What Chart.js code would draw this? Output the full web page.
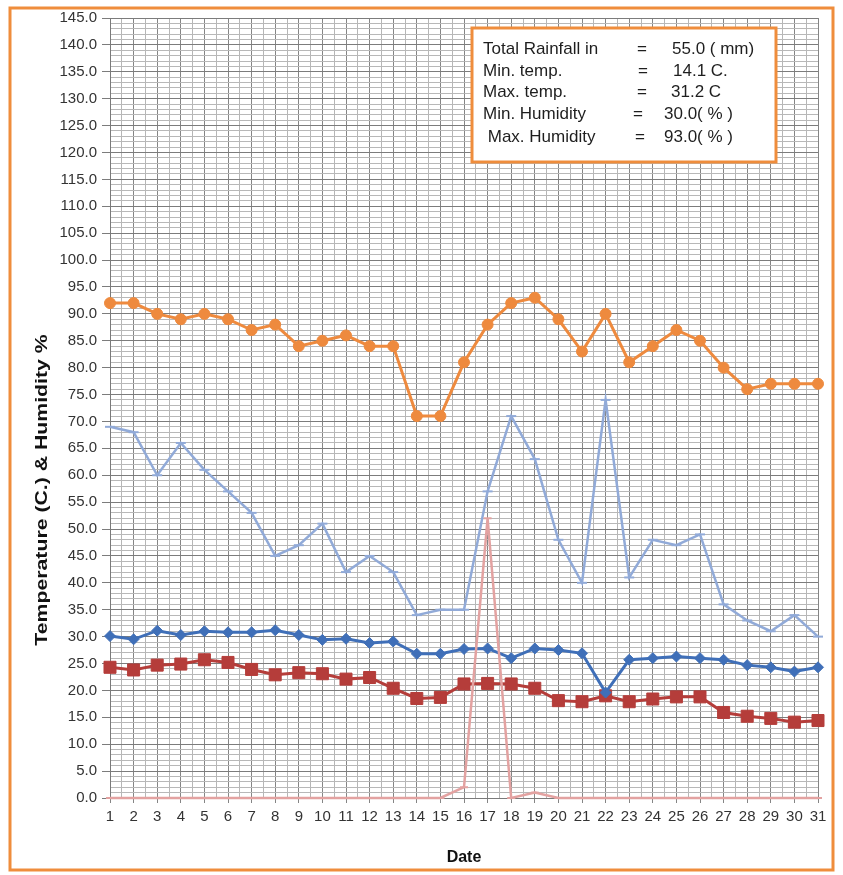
<!DOCTYPE html>
<html>
<head>
<meta charset="utf-8">
<script src="https://cdn.jsdelivr.net/npm/chart.js@4/dist/chart.umd.min.js"></script>
<style>
  body { margin: 0; background: #ffffff; }
  #chart { display: block; }
</style>
</head>
<body>
<canvas id="chart" width="843" height="875"></canvas>
<script>
// =====================================================
// DATA
// =====================================================

const days = [1, 2, 3, 4, 5, 6, 7, 8, 9, 10, 11, 12, 13, 14, 15, 16,
              17, 18, 19, 20, 21, 22, 23, 24, 25, 26, 27, 28, 29, 30, 31];

const maxHumidity = [92, 92, 90, 89, 90, 89, 87, 88, 84, 85, 86, 84, 84, 71, 71, 81,
                     88, 92, 93, 89, 83, 90, 81, 84, 87, 85, 80, 76, 77, 77, 77];
const minHumidity = [69, 68, 60, 66, 61, 57, 53, 45, 47, 51, 42, 45, 42, 34, 35, 35,
                     57, 71, 63, 48, 40, 74, 41, 48, 47, 49, 36, 33, 31, 34, 30];
const maxTemp = [30.1, 29.5, 31.1, 30.3, 31.0, 30.8, 30.8, 31.2, 30.3, 29.4, 29.6, 28.8, 29.1, 26.8, 26.8, 27.7,
                 27.8, 26.0, 27.8, 27.5, 26.9, 19.6, 25.7, 26.0, 26.3, 26.0, 25.7, 24.7, 24.3, 23.5, 24.3];
const minTemp = [24.3, 23.8, 24.7, 24.9, 25.7, 25.2, 23.9, 22.9, 23.3, 23.1, 22.1, 22.4, 20.4, 18.5, 18.7, 21.2,
                 21.3, 21.2, 20.4, 18.1, 17.9, 19.0, 17.9, 18.4, 18.8, 18.8, 15.9, 15.2, 14.8, 14.1, 14.4];
const rainfall = [0, 0, 0, 0, 0, 0, 0, 0, 0, 0, 0, 0, 0, 0, 0, 2,
                  52, 0, 1, 0, 0, 0, 0, 0, 0, 0, 0, 0, 0, 0, 0];

// summary box text
const infoLabels = ['Total Rainfall in', 'Min. temp.', 'Max. temp.', 'Min. Humidity', ' Max. Humidity'];
const infoValues = ['55.0 ( mm)', '14.1 C.', '31.2 C', '30.0( % )', '93.0( % )'];

const yTitle = 'Temperature (C.) & Humidity %';
const yMin = 0;
const yMax = 145;

// turn a value list into {x, y} points for the linear date axis
function points(values) {
  return days.map((d, i) => ({ x: d, y: values[i] }));
}

const FONT = "'Liberation Sans', Arial, sans-serif";

// =====================================================
// EXTRA DRAWING: y title, summary box, outer frame
// =====================================================

const framePlugin = {
  id: 'frame',
  afterDraw(chart) {
    const c = chart.ctx;
    c.save();

    // y axis title, stretched a bit like the sheet picture
    c.save();
    c.translate(42, 490);
    c.rotate(-Math.PI / 2);
    c.scale(1.25, 1);
    c.fillStyle = '#111111';
    c.font = 'bold 17px ' + FONT;
    c.textAlign = 'center';
    c.textBaseline = 'middle';
    c.fillText(yTitle, 0, 0);
    c.restore();

    // summary box
    c.fillStyle = '#ffffff';
    c.fillRect(472, 28, 304, 134);
    c.strokeStyle = '#ef8d3c';
    c.lineWidth = 3;
    c.strokeRect(472, 28, 304, 134);

    c.fillStyle = '#1e1e1e';
    c.font = '17px ' + FONT;
    c.textBaseline = 'middle';
    const rowsY  = [49, 71, 92, 114, 137];
    const eqX    = [637, 638, 637, 633, 635];
    const valX   = [672, 673, 671, 664, 664];
    infoLabels.forEach((label, i) => {
      c.fillText(label, 483, rowsY[i]);
      c.fillText('=', eqX[i], rowsY[i]);
      c.fillText(infoValues[i], valX[i], rowsY[i]);
    });

    // outer orange frame
    c.strokeStyle = '#ef8d3c';
    c.lineWidth = 3;
    c.strokeRect(10, 8, 823, 862);
    c.restore();
  }
};

// =====================================================
// CHART
// =====================================================

new Chart(document.getElementById('chart'), {
  type: 'line',
  data: {
    datasets: [
      {
        label: 'Rainfall',
        data: points(rainfall),
        borderColor: '#e3a2a1',
        backgroundColor: '#e3a2a1',
        borderWidth: 2.5,
        pointStyle: 'line',
        pointRadius: 4,
        pointBorderWidth: 2
      },
      {
        label: 'Max. Humidity',
        data: points(maxHumidity),
        borderColor: '#ee8a3e',
        backgroundColor: '#ee8a3e',
        borderWidth: 3,
        pointStyle: 'circle',
        pointRadius: 5.5,
        pointBorderWidth: 1
      },
      {
        label: 'Min. Humidity',
        data: points(minHumidity),
        borderColor: '#91aad8',
        backgroundColor: '#91aad8',
        borderWidth: 2.5,
        pointStyle: 'line',
        pointRadius: 5,
        pointBorderWidth: 2
      },
      {
        label: 'Max. temp.',
        data: points(maxTemp),
        borderColor: '#3f6fb8',
        backgroundColor: '#3f6fb8',
        borderWidth: 3,
        pointStyle: 'rectRot',
        pointRadius: 5.5,
        pointBorderWidth: 1
      },
      {
        label: 'Min. temp.',
        data: points(minTemp),
        borderColor: '#b53d3a',
        backgroundColor: '#b53d3a',
        borderWidth: 3,
        pointStyle: 'rect',
        pointRadius: 8.5,
        pointBorderWidth: 1
      }
    ]
  },
  options: {
    responsive: false,
    animation: false,
    datasets: { line: { clip: false } },
    layout: { padding: { top: 18, left: 12, right: 25, bottom: 8 } },
    plugins: {
      legend: { display: false },
      tooltip: { enabled: false }
    },
    scales: {
      x: {
        type: 'linear',
        min: 1,
        max: 31,
        afterFit(scale) {
          scale.height = 69;
          scale.paddingLeft = 0;
          scale.paddingRight = 0;
        },
        ticks: {
          stepSize: 0.5,
          autoSkip: false,
          maxRotation: 0,
          padding: 5,
          color: '#333333',
          font: { family: FONT, size: 15 },
          // only whole days get a label
          callback: v => Number.isInteger(v) ? String(v) : ''
        },
        grid: {
          tickLength: 5,
          color: ctx => Number.isInteger(ctx.tick.value) ? '#858585' : '#b6b6b6',
          tickColor: ctx => Number.isInteger(ctx.tick.value) ? '#858585' : 'rgba(0,0,0,0)'
        },
        border: { color: '#7a7a7a' },
        title: {
          display: true,
          text: 'Date',
          color: '#111111',
          font: { family: FONT, size: 16, weight: 'bold' },
          padding: { top: 0, bottom: 0 }
        }
      },
      y: {
        min: yMin,
        max: yMax,
        afterFit(scale) {
          scale.width = 98;
          scale.paddingTop = 0;
          scale.paddingBottom = 0;
        },
        ticks: {
          stepSize: 1,
          autoSkip: false,
          padding: 5,
          color: '#333333',
          font: { family: FONT, size: 15 },
          // label every 5 units, like the sheet
          callback: v => v % 5 === 0 ? v.toFixed(1) : ''
        },
        grid: {
          tickLength: 8,
          color: ctx => ctx.tick.value % 5 === 0 ? '#7c7c7c' : '#b8b8b8',
          tickColor: ctx => ctx.tick.value % 5 === 0 ? '#7c7c7c' : 'rgba(0,0,0,0)'
        },
        border: { color: '#7a7a7a' },
        title: { display: false }
      }
    }
  },
  plugins: [framePlugin]
});
</script>
</body>
</html>
